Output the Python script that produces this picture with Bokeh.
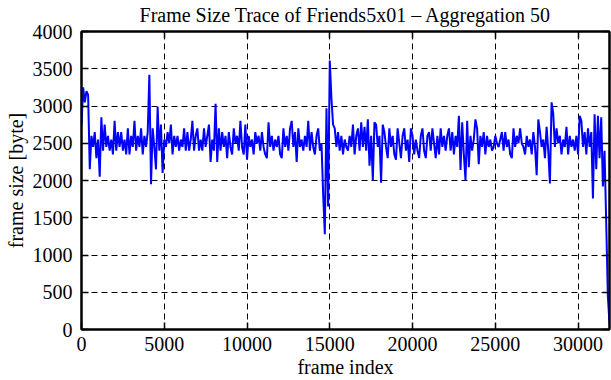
from bokeh.plotting import figure
from bokeh.models import Range1d, SingleIntervalTicker, LinearAxis, CustomJSTickFormatter
from bokeh.embed import file_html
from bokeh.resources import INLINE

# frame sizes [byte], one value every 100 frames
seg_0_5k = [2750, 3250, 3050, 3200, 3150, 2150, 2600, 2450, 2650, 2300,
            2550, 2050, 2850, 2400, 2750, 2450, 2600, 2400, 2550, 2350,
            2800, 2400, 2650, 2450, 2650, 2400, 2550, 2350, 2700, 2350,
            2600, 2450, 2800, 2400, 2600, 2450, 2700, 2350, 2600, 2450,
            2650, 3420, 1950, 2700, 2450, 2150, 2990, 2400, 2750, 2100,
            2550, 2450, 2650, 2500]
seg_5k_10k = [2750, 2350, 2600, 2450, 2600, 2400, 2550, 2450, 2700, 2400,
              2650, 2400, 2550, 2800, 2400, 2600, 2700, 2400, 2550, 2400,
              2700, 2450, 2600, 2750, 2250, 2550, 2400, 3030, 2250, 2700,
              2400, 2650, 2450, 2600, 2300, 2650, 2450, 2350, 2700, 2500,
              2600, 2400, 2800, 2450, 2350, 2750, 2280, 2600, 2450, 2550,
              2350, 2650, 2500]
seg_10k_16k = [2600, 2400, 2650, 2450, 2350, 2300, 2780, 2450, 2600, 2400,
               2550, 2450, 2600, 2350, 2300, 2700, 2450, 2600, 2400, 2700,
               2800, 2450, 2650, 2250, 2700, 2450, 2550, 2400, 2600, 2450,
               2800, 2400, 2650, 2450, 2350, 2600, 2700, 2400, 2500, 1820,
               1280, 2970, 1650, 3610, 3100, 2750, 2700, 2450, 2650, 2400,
               2600, 2350, 2550, 2450]
seg_16k_21k = [2400, 2600, 2450, 2750, 2350, 2600, 2700, 2400, 2780, 2450,
               2720, 2400, 2820, 2200, 2600, 2000, 2780, 2750, 2450, 2600,
               1970, 2750, 2650, 2450, 2300, 2700, 2450, 2600, 2350, 2280,
               2700, 2500, 2300, 2600, 2700, 2400, 2550, 2250, 2700, 2600,
               2350, 2550, 2400, 2300, 2600, 2700, 2400, 2300, 2600, 2650,
               2400, 2700, 2500]
seg_21k_26k = [2300, 2600, 2350, 2700, 2450, 2600, 2400, 2600, 2700, 2400,
               2650, 2350, 2600, 2450, 2870, 2140, 2780, 2350, 2000, 2800,
               2180, 2600, 2400, 2550, 2820, 2700, 2220, 2600, 2450, 2650,
               2350, 2600, 2450, 2550, 2400, 2450, 2600, 2500, 2450, 2550,
               2650, 2400, 2650, 2450, 2550, 2350, 2300, 2700, 2450, 2600,
               2500, 2700, 2500]
seg_26k_32k = [2450, 2350, 2600, 2450, 2550, 2350, 2650, 2450, 2070, 2820,
               2650, 2450, 2550, 2300, 2720, 2400, 1960, 3050, 2900, 2450,
               2700, 2500, 2600, 2350, 2550, 2450, 2720, 2350, 2600, 2450,
               2550, 2400, 2600, 2350, 2870, 2800, 2450, 2650, 2350, 2700,
               2450, 2650, 1760, 2890, 2150, 2870, 2300, 2850, 1920, 2400,
               1450, 450, 80]

frame_size = seg_0_5k + seg_5k_10k + seg_10k_16k + seg_16k_21k + seg_21k_26k + seg_26k_32k
frame_step = 100
frame_index = [i * frame_step for i in range(len(frame_size))]

x_max = 31900
y_max = 4000
x_tick_step = 5000
y_tick_step = 500

FONT = "Liberation Serif"
FS = "20px"

p = figure(width=611, height=380, output_backend="svg", toolbar_location=None,
           x_range=Range1d(0, x_max), y_range=Range1d(0, y_max),
           min_border_left=81, min_border_right=2, min_border_top=31, min_border_bottom=50)

p.line(frame_index, frame_size, line_color="#0000ff", line_width=2)

p.title.text = "Frame Size Trace of Friends5x01 \u2013 Aggregation 50"
p.title.align = "center"
p.title.vertical_align = "top"
p.title.text_font = FONT
p.title.text_font_size = FS
p.title.text_font_style = "normal"
p.title.text_color = "black"
p.title.text_line_height = 0.6
p.title.standoff = 7

p.xaxis.ticker = SingleIntervalTicker(interval=x_tick_step, num_minor_ticks=0)
p.yaxis.ticker = SingleIntervalTicker(interval=y_tick_step, num_minor_ticks=0)
p.xaxis.axis_label = "frame index"
p.yaxis.axis_label = "frame size [byte]"

for ax in (p.xaxis[0], p.yaxis[0]):
    ax.axis_label_text_font = FONT
    ax.axis_label_text_font_size = FS
    ax.axis_label_text_font_style = "normal"
    ax.axis_label_text_color = "black"
    ax.major_label_text_font = FONT
    ax.major_label_text_font_size = FS
    ax.major_label_text_color = "black"
    ax.major_tick_in = 7
    ax.major_tick_out = 0
    ax.minor_tick_in = 0
    ax.minor_tick_out = 0
    ax.axis_line_width = 2
    ax.axis_line_color = "black"
    ax.major_tick_line_color = "black"
    ax.major_tick_line_width = 1.5

p.xaxis.major_label_standoff = 7
p.xaxis.axis_label_standoff = 2
p.yaxis.major_label_standoff = 9
p.yaxis.axis_label_standoff = 3

blank = CustomJSTickFormatter(code="return ''")
top = LinearAxis(ticker=SingleIntervalTicker(interval=x_tick_step, num_minor_ticks=0),
                 formatter=blank, major_label_text_font_size="1px", major_label_standoff=0,
                 major_tick_in=7, major_tick_out=0, minor_tick_in=0, minor_tick_out=0,
                 axis_line_width=2, major_tick_line_width=1.5)
right = LinearAxis(ticker=SingleIntervalTicker(interval=y_tick_step, num_minor_ticks=0),
                   formatter=blank, major_label_text_font_size="1px", major_label_standoff=0,
                   major_tick_in=7, major_tick_out=0, minor_tick_in=0, minor_tick_out=0,
                   axis_line_width=2, major_tick_line_width=1.5)
p.add_layout(top, "above")
p.add_layout(right, "right")

for g in (p.xgrid[0], p.ygrid[0]):
    g.grid_line_color = "black"
    g.grid_line_width = 1
    g.grid_line_dash = "6 4"

p.outline_line_color = "black"
p.outline_line_width = 2
p.background_fill_color = "white"
p.border_fill_color = "white"

open("out.html", "w").write(file_html(p, INLINE))
